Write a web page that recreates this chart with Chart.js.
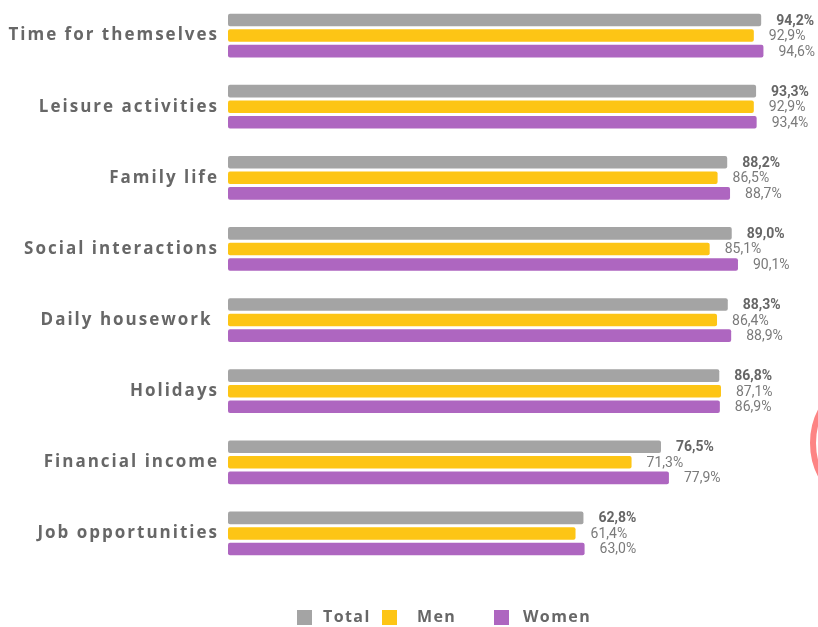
<!DOCTYPE html>
<html>
<head>
<meta charset="utf-8">
<script src="https://cdn.jsdelivr.net/npm/chart.js@4.4.1/dist/chart.umd.min.js"></script>
<style>
  html, body { margin: 0; padding: 0; background: #ffffff; }
  #wrap { width: 818px; height: 627px; position: relative; }
</style>
</head>
<body>
<div id="wrap"><canvas id="chart" width="818" height="627"></canvas></div>
<script>
// Satisfaction by life domain (%)
const categories = [
  "Time for themselves",
  "Leisure activities",
  "Family life",
  "Social interactions",
  "Daily housework ",
  "Holidays",
  "Financial income",
  "Job opportunities"
];
const seriesNames = ["Total", "Men", "Women"];
const totalValues = [94.2, 93.3, 88.2, 89.0, 88.3, 86.8, 76.5, 62.8];
const menValues   = [92.9, 92.9, 86.5, 85.1, 86.4, 87.1, 71.3, 61.4];
const womenValues = [94.6, 93.4, 88.7, 90.1, 88.9, 86.9, 77.9, 63.0];

const colors = ["#a4a4a4", "#fdc515", "#ae66c0"];
const labelGray = "#676767";
const valueGray = "#7a7a7a";

const fmt = v => v.toFixed(1).replace(".", ",") + "%";

// wider letter spacing for the category labels
const spacing = {
  id: "spacing",
  beforeDraw(chart) {
    if ('letterSpacing' in chart.ctx) chart.ctx.letterSpacing = "2px";
  }
};

// value labels at the end of each bar
const valueLabels = {
  id: "valueLabels",
  afterDatasetsDraw(chart) {
    const ctx = chart.ctx;
    ctx.save();
    if ('letterSpacing' in ctx) ctx.letterSpacing = "0px";
    ctx.textAlign = "left";
    ctx.textBaseline = "middle";
    chart.data.datasets.forEach((ds, di) => {
      const meta = chart.getDatasetMeta(di);
      ctx.font = (di === 0 ? "bold " : "") + "14px Roboto, 'Open Sans', sans-serif";
      ctx.fillStyle = di === 0 ? "#666666" : valueGray;
      meta.data.forEach((bar, i) => {
        ctx.fillText(fmt(ds.data[i]), bar.x + 15, bar.y + 1);
      });
    });
    ctx.restore();
  }
};

// legend row under the plot
const bottomLegend = {
  id: "bottomLegend",
  afterDraw(chart) {
    const ctx = chart.ctx;
    const y = 617.5;
    const boxX = [297, 382, 494];
    const textX = [323, 417, 523];
    const box = 15;
    ctx.save();
    ctx.font = "bold 16px 'Open Sans', sans-serif";
    ctx.textBaseline = "middle";
    ctx.textAlign = "left";
    if ('letterSpacing' in ctx) ctx.letterSpacing = "1.4px";
    chart.data.datasets.forEach((ds, i) => {
      ctx.fillStyle = ds.backgroundColor;
      ctx.fillRect(boxX[i], y - box / 2, box, box);
      ctx.fillStyle = labelGray;
      ctx.fillText(ds.label, textX[i], y);
    });
    ctx.restore();
  }
};

// decorative ring at the right edge
const ring = {
  id: "ring",
  afterDraw(chart) {
    const ctx = chart.ctx;
    ctx.save();
    ctx.beginPath();
    ctx.arc(882, 443, 69, 0, Math.PI * 2);
    ctx.strokeStyle = "#fd8484";
    ctx.lineWidth = 6;
    ctx.stroke();
    ctx.restore();
  }
};

const datasets = [totalValues, menValues, womenValues].map((vals, i) => ({
  label: seriesNames[i],
  data: vals,
  backgroundColor: colors[i],
  borderRadius: 2,
  borderSkipped: false,
  categoryPercentage: 0.655,
  barPercentage: 0.81
}));

new Chart(document.getElementById("chart"), {
  type: "bar",
  data: { labels: categories, datasets },
  options: {
    indexAxis: "y",
    responsive: false,
    animation: false,
    layout: { padding: { top: -2, right: 24, bottom: 58, left: 0 } },
    plugins: { legend: { display: false }, tooltip: { enabled: false } },
    scales: {
      x: { display: false, min: 0, max: 100 },
      y: {
        grid: { display: false },
        border: { display: false },
        ticks: {
          color: labelGray,
          font: { family: "'Open Sans', sans-serif", size: 17, weight: "bold" },
          padding: 1
        },
        afterFit(scale) {
          scale.width = 228;
          scale.paddingTop = 0;
          scale.paddingBottom = 0;
        }
      }
    }
  },
  plugins: [spacing, valueLabels, bottomLegend, ring]
});
</script>
</body>
</html>
